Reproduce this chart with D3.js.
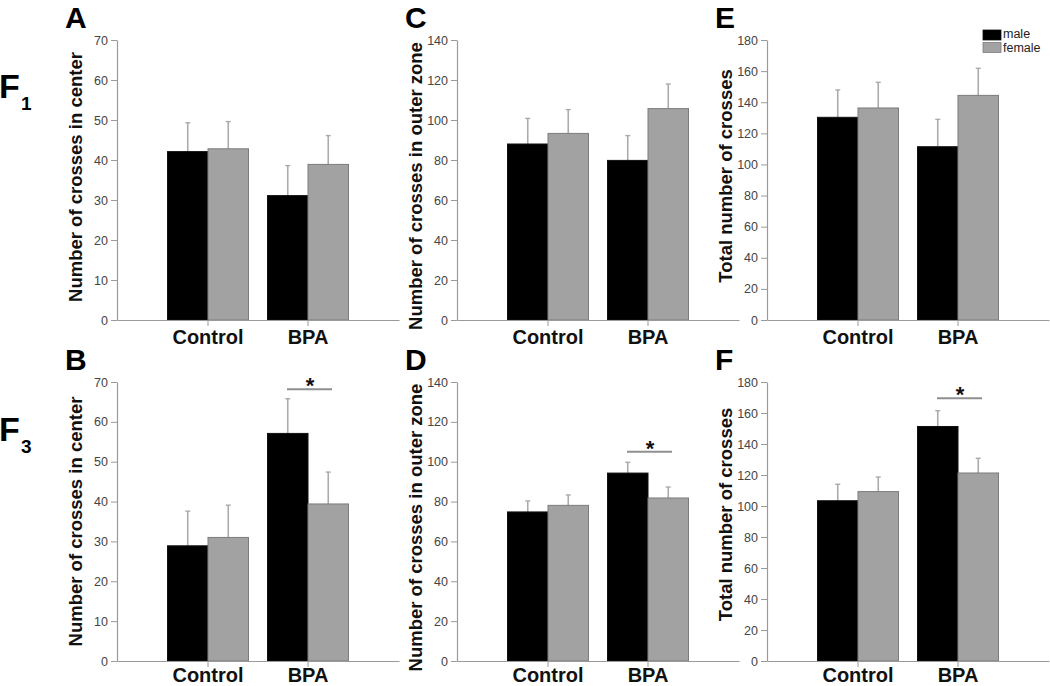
<!DOCTYPE html>
<html>
<head>
<meta charset="utf-8">
<script src="https://cdn.jsdelivr.net/npm/d3@7"></script>
<style>
  html, body { margin: 0; padding: 0; background: #fff; }
  svg { display: block; font-family: "Liberation Sans", Arial, sans-serif; }
</style>
</head>
<body>
<svg id="chart" width="1050" height="686"></svg>
<script>
// ---------- data ----------
const categories = ["Control", "BPA"];
const sexes = ["male", "female"];

// F1 generation
const centerF1Male = [42.1, 31.1];
const centerF1MaleSem = [7.2, 7.5];
const centerF1Female = [42.8, 38.9];
const centerF1FemaleSem = [6.8, 7.2];

const outerF1Male = [88.0, 79.8];
const outerF1MaleSem = [12.8, 12.4];
const outerF1Female = [93.3, 105.7];
const outerF1FemaleSem = [11.9, 12.3];

const totalF1Male = [130.3, 111.4];
const totalF1MaleSem = [17.6, 17.6];
const totalF1Female = [136.3, 144.4];
const totalF1FemaleSem = [16.5, 17.4];

// F3 generation
const centerF3Male = [28.9, 57.1];
const centerF3MaleSem = [8.7, 8.7];
const centerF3Female = [31.0, 39.4];
const centerF3FemaleSem = [8.1, 8.0];

const outerF3Male = [74.8, 94.3];
const outerF3MaleSem = [5.5, 5.4];
const outerF3Female = [78.1, 81.8];
const outerF3FemaleSem = [5.2, 5.5];

const totalF3Male = [103.4, 151.3];
const totalF3MaleSem = [10.6, 10.2];
const totalF3Female = [109.3, 121.3];
const totalF3FemaleSem = [9.4, 9.5];

// axis maxima and tick steps
const yMaxCenter = 70, yStepCenter = 10;
const yMaxOuter = 140, yStepOuter = 20;
const yMaxTotal = 180, yStepTotal = 20;

// significance bracket levels (value units) for F3 panels
const sigCenterF3 = 68.2;
const sigOuterF3 = 105;
const sigTotalF3 = 169.5;

const yTitles = ["Number of crosses in center", "Number of crosses in outer zone", "Total number of crosses"];
const panelLetters = ["A", "C", "E", "B", "D", "F"];

// ---------- drawing ----------
const svg = d3.select("#chart");
const colors = { male: "#000000", female: "#a2a2a2" };
const strokes = { male: "#111111", female: "#7c7c7c" };
const axisColor = "#9a9a9a";

function drawPanel(p) {
  const g = svg.append("g");
  const x = d3.scaleBand().domain(categories)
    .range([p.x0, p.x0 + 282]).paddingInner(0.19).paddingOuter(0.505);
  const xs = d3.scaleBand().domain(sexes).range([0, x.bandwidth()]);
  const y = d3.scaleLinear().domain([0, p.max]).range([p.bottom, p.top]);

  // y axis
  const ya = g.append("g").attr("transform", `translate(${p.x0},0)`)
    .call(d3.axisLeft(y).tickValues(d3.range(0, p.max + 1, p.step))
      .tickSize(6).tickSizeOuter(0).tickPadding(3));
  ya.select(".domain").attr("stroke", axisColor).attr("stroke-width", 1.2);
  ya.selectAll(".tick line").attr("stroke", axisColor);
  ya.selectAll(".tick text").attr("fill", "#444").style("font-size", "12.5px")
    .style("font-family", "Liberation Sans, Arial, sans-serif");

  // bars
  const rows = [];
  categories.forEach((c, i) => {
    sexes.forEach(s => {
      rows.push({ cat: c, sex: s, v: p.vals[s][i], e: p.errs[s][i] });
    });
  });

  // error bars (upper only)
  rows.forEach(d => {
    const cx = x(d.cat) + xs(d.sex) + xs.bandwidth() / 2;
    g.append("line").attr("x1", cx).attr("x2", cx)
      .attr("y1", y(d.v)).attr("y2", y(d.v + d.e))
      .attr("stroke", "#ababab").attr("stroke-width", 1.6);
    g.append("line").attr("x1", cx - 2.5).attr("x2", cx + 2.5)
      .attr("y1", y(d.v + d.e)).attr("y2", y(d.v + d.e))
      .attr("stroke", "#ababab").attr("stroke-width", 1.4);
  });

  g.selectAll("rect.bar").data(rows).enter().append("rect")
    .attr("class", "bar")
    .attr("x", d => x(d.cat) + xs(d.sex))
    .attr("width", xs.bandwidth())
    .attr("y", d => y(d.v))
    .attr("height", d => y(0) - y(d.v))
    .attr("fill", d => colors[d.sex])
    .attr("stroke", d => strokes[d.sex])
    .attr("stroke-width", 1);

  // x axis
  const xa = g.append("g").attr("transform", `translate(0,${p.bottom})`)
    .call(d3.axisBottom(x).tickSize(6).tickSizeOuter(0).tickPadding(p.labelPad));
  xa.select(".domain").attr("stroke", axisColor).attr("stroke-width", 1.2);
  xa.selectAll(".tick line").attr("stroke", axisColor);
  xa.selectAll(".tick text").attr("fill", "#111").style("font-size", "20px")
    .style("font-weight", "bold").style("font-family", "Liberation Sans, Arial, sans-serif");

  // y title
  const tcy = (p.top + p.bottom) / 2 + p.titleDy;
  g.append("text")
    .attr("transform", `translate(${p.x0 - 35},${tcy}) rotate(-90)`)
    .attr("text-anchor", "middle")
    .style("font-size", "18.5px").style("font-weight", "bold").attr("fill", "#111")
    .text(p.title);

  // panel letter
  g.append("text").attr("x", p.x0 - 52).attr("y", p.top - 12)
    .style("font-size", "30px").style("font-weight", "bold").attr("fill", "#000")
    .text(p.letter);

  // significance bracket
  if (p.sig != null) {
    const cx = x("BPA") + x.bandwidth() / 2;
    const ly = y(p.sig);
    g.append("line").attr("x1", cx - 21).attr("x2", cx + 24)
      .attr("y1", ly).attr("y2", ly)
      .attr("stroke", "#8f8f8f").attr("stroke-width", 2);
    g.append("text").attr("x", cx + 2).attr("y", ly + 4)
      .attr("text-anchor", "middle")
      .style("font-size", "22px").style("font-weight", "bold").attr("fill", "#111")
      .text("*");
  }
}

const row1 = { top: 40, bottom: 320, labelPad: 4 };
const row2 = { top: 382, bottom: 661, labelPad: 1 };

const panels = [
  { ...row1, x0: 117, max: yMaxCenter, step: yStepCenter, title: yTitles[0], letter: panelLetters[0], titleDy: -3,
    vals: { male: centerF1Male, female: centerF1Female }, errs: { male: centerF1MaleSem, female: centerF1FemaleSem }, sig: null },
  { ...row1, x0: 457, max: yMaxOuter, step: yStepOuter, title: yTitles[1], letter: panelLetters[1], titleDy: 6,
    vals: { male: outerF1Male, female: outerF1Female }, errs: { male: outerF1MaleSem, female: outerF1FemaleSem }, sig: null },
  { ...row1, x0: 767, max: yMaxTotal, step: yStepTotal, title: yTitles[2], letter: panelLetters[2], titleDy: -4,
    vals: { male: totalF1Male, female: totalF1Female }, errs: { male: totalF1MaleSem, female: totalF1FemaleSem }, sig: null },
  { ...row2, x0: 117, max: yMaxCenter, step: yStepCenter, title: yTitles[0], letter: panelLetters[3], titleDy: 0,
    vals: { male: centerF3Male, female: centerF3Female }, errs: { male: centerF3MaleSem, female: centerF3FemaleSem }, sig: sigCenterF3 },
  { ...row2, x0: 457, max: yMaxOuter, step: yStepOuter, title: yTitles[1], letter: panelLetters[4], titleDy: 6,
    vals: { male: outerF3Male, female: outerF3Female }, errs: { male: outerF3MaleSem, female: outerF3FemaleSem }, sig: sigOuterF3 },
  { ...row2, x0: 767, max: yMaxTotal, step: yStepTotal, title: yTitles[2], letter: panelLetters[5], titleDy: -7,
    vals: { male: totalF3Male, female: totalF3Female }, errs: { male: totalF3MaleSem, female: totalF3FemaleSem }, sig: sigTotalF3 }
];

panels.forEach(drawPanel);

// generation labels F1 / F3
[["1", 98], ["3", 441]].forEach(([sub, base]) => {
  svg.append("text").attr("x", -1).attr("y", base)
    .style("font-size", "34px").style("font-weight", "bold").attr("fill", "#000").text("F");
  svg.append("text").attr("x", 21).attr("y", base + 12)
    .style("font-size", "19px").style("font-weight", "bold").attr("fill", "#000").text(sub);
});

// legend
const leg = svg.append("g");
sexes.forEach((s, i) => {
  leg.append("rect").attr("x", 983).attr("y", 30 + i * 12.5).attr("width", 18).attr("height", 10)
    .attr("fill", colors[s]).attr("stroke", strokes[s]).attr("stroke-width", 0.8);
  leg.append("text").attr("x", 1003).attr("y", 38 + i * 14)
    .style("font-size", "12.5px").attr("fill", "#222").text(s);
});
</script>
</body>
</html>
